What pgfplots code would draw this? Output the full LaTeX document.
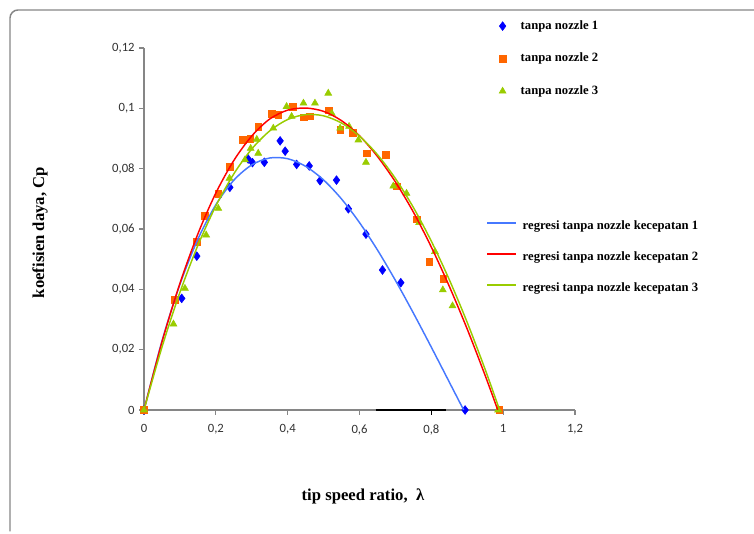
\documentclass[border=0pt]{standalone}
\usepackage{fontspec}
\setmainfont{Liberation Serif}
\newfontfamily\carlito{Carlito}
\usepackage{pgfplots}
\pgfplotsset{compat=1.18}

\definecolor{ptblue}{RGB}{0,0,255}
\definecolor{ptorange}{RGB}{255,102,0}
\definecolor{ptgreen}{RGB}{153,204,0}
\definecolor{lnblue}{RGB}{70,120,255}
\definecolor{lnred}{RGB}{255,0,0}
\definecolor{axgray}{RGB}{134,134,134}

\begin{document}
\begin{tikzpicture}
% canvas 754 x 534 px at 0.75pt per px
\path[use as bounding box] (0,0) rectangle (565.5pt,400.5pt);
\draw[axgray, line width=1.1pt, rounded corners=6pt] (7.5pt,2pt) -- (7.5pt,393pt) -- (565.5pt,393pt);

\begin{axis}[
  at={(108pt,93pt)}, anchor=south west,
  scale only axis, width=323.25pt, height=271.5pt,
  xmin=0, xmax=1.2, ymin=0, ymax=0.12,
  clip=false,
  axis x line=bottom, axis y line=left,
  axis line style={-, axgray, line width=0.8pt},
  tick style={axgray, line width=0.8pt},
  tick align=outside, major tick length=3.5pt,
  xtick={0,0.2,0.4,0.6,0.8,1,1.2},
  xticklabels={0,{0,2},{0,4},{0,6},{0,8},1,{1,2}},
  ytick={0,0.02,0.04,0.06,0.08,0.1,0.12},
  yticklabels={0,{0,02},{0,04},{0,06},{0,08},{0,1},{0,12}},
  ticklabel style={font=\carlito\fontsize{9.5}{10}\selectfont, text=black!80},
  xticklabel style={yshift=-4pt},
  xlabel={tip speed ratio,\ \ λ},
  ylabel={koefisien daya, Cp},
  label style={font=\bfseries\fontsize{12.5}{14}\selectfont},
  xlabel style={at={(axis description cs:0.508,-0.240)}, anchor=center},
  ylabel style={at={(axis description cs:-0.241,0.49)}, anchor=center},
  legend style={draw=none, fill=none, inner sep=0pt, outer sep=0pt,
    font=\bfseries\fontsize{9.5}{10}\selectfont,
    nodes={inner sep=0pt, text height=7pt, text depth=2pt},
    row sep=15.4pt, column sep=11pt,
    at={(axis description cs:0.824,1.077)}, anchor=north west},
  legend cell align=left,
]
% dark stroke over the x axis near 0,8 as in the scan
\draw[black, line width=1.4pt] (axis cs:0.645,0) -- (axis cs:0.84,0);
\draw[black, line width=1.2pt] (axis cs:0.8,0) -- ++(0pt,-4pt);

\addplot[only marks, mark=diamond*, mark size=3.3pt, color=ptblue] coordinates {
(0,0) (0.105,0.037) (0.147,0.051) (0.239,0.0738) (0.290,0.0832) (0.302,0.0820)
(0.335,0.0821) (0.379,0.0892) (0.393,0.0858) (0.425,0.0814) (0.460,0.0809)
(0.490,0.0760) (0.536,0.0762) (0.569,0.0667) (0.618,0.0583) (0.664,0.0464)
(0.715,0.0422) (0.894,0)};
\addlegendentry{tanpa nozzle 1}
\addplot[only marks, mark=square*, mark size=2.5pt, color=ptorange] coordinates {
(0,0) (0.086,0.0365) (0.147,0.0558) (0.170,0.0644) (0.207,0.0716) (0.239,0.0806)
(0.275,0.0895) (0.296,0.0898) (0.318,0.0939) (0.355,0.0983) (0.374,0.0978)
(0.414,0.1006) (0.444,0.0970) (0.462,0.0974) (0.515,0.0994) (0.546,0.0930)
(0.581,0.0919) (0.620,0.0851) (0.674,0.0845) (0.703,0.0742) (0.759,0.0632)
(0.794,0.0492) (0.833,0.0436) (0.989,0)};
\addlegendentry{tanpa nozzle 2}
\addplot[only marks, mark=triangle*, mark size=3pt, color=ptgreen] coordinates {
(0,0) (0.082,0.0285) (0.114,0.0403) (0.173,0.0580) (0.207,0.0668) (0.238,0.0768)
(0.281,0.0829) (0.297,0.0867) (0.314,0.0897) (0.318,0.0851) (0.360,0.0934)
(0.397,0.1006) (0.411,0.0973) (0.444,0.1017) (0.476,0.1017) (0.513,0.1050)
(0.523,0.0983) (0.546,0.0934) (0.571,0.0940) (0.597,0.0895) (0.618,0.0821)
(0.694,0.0742) (0.731,0.0718) (0.766,0.0621) (0.810,0.0525) (0.832,0.0398)
(0.859,0.0345) (0.986,0)};
\addlegendentry{tanpa nozzle 3}
\end{axis}

% regression curves, with their own legend
\begin{axis}[
  at={(108pt,93pt)}, anchor=south west,
  scale only axis, width=323.25pt, height=271.5pt,
  xmin=0, xmax=1.2, ymin=0, ymax=0.12,
  hide axis,
  legend style={draw=none, fill=none, inner sep=0pt, outer sep=0pt,
    font=\bfseries\fontsize{9.5}{10}\selectfont,
    nodes={inner sep=0pt, text height=7pt, text depth=2pt},
    row sep=14.25pt, column sep=4pt,
    at={(axis description cs:0.7935,0.5235)}, anchor=north west},
  legend cell align=left,
  legend image code/.code={%
    \draw[#1, line width=1.8pt] (0pt,2.4pt) -- (21.75pt,2.4pt);},
]
\addplot[smooth, no markers, color=lnblue, line width=1.1pt] coordinates {
(0,0) (0.05,0.02285) (0.1,0.04163) (0.15,0.05661) (0.2,0.06803) (0.25,0.07616)
(0.3,0.08124) (0.35,0.08354) (0.4,0.0833) (0.45,0.08078) (0.5,0.07625)
(0.55,0.06994) (0.6,0.06212) (0.65,0.05304) (0.7,0.04296) (0.75,0.03213)
(0.8,0.02081) (0.85,0.00925) (0.89,0)};
\addlegendentry{regresi tanpa nozzle kecepatan 1}
\addplot[smooth, no markers, color=lnred, line width=1.1pt] coordinates {
(0,0) (0.05,0.02253) (0.1,0.04195) (0.15,0.05837) (0.2,0.07191) (0.25,0.08269)
(0.3,0.09083) (0.35,0.09646) (0.4,0.09940) (0.45,0.10010) (0.5,0.09900)
(0.55,0.09590) (0.6,0.09090) (0.65,0.08405) (0.7,0.07560) (0.75,0.06560)
(0.8,0.05400) (0.85,0.04100) (0.9,0.02680) (0.95,0.01140) (0.985,0)};
\addlegendentry{regresi tanpa nozzle kecepatan 2}
\addplot[smooth, no markers, color=ptgreen, line width=1.1pt] coordinates {
(0,0) (0.05,0.02082) (0.1,0.03898) (0.15,0.05456) (0.2,0.06762) (0.25,0.07826)
(0.3,0.08653) (0.35,0.09251) (0.4,0.09629) (0.45,0.09793) (0.5,0.09751)
(0.55,0.09511) (0.6,0.09079) (0.65,0.08464) (0.7,0.07673) (0.75,0.06714)
(0.8,0.05594) (0.85,0.0432) (0.9,0.029) (0.95,0.01341) (0.99,0)};
\addlegendentry{regresi tanpa nozzle kecepatan 3}
\end{axis}
\end{tikzpicture}
\end{document}
